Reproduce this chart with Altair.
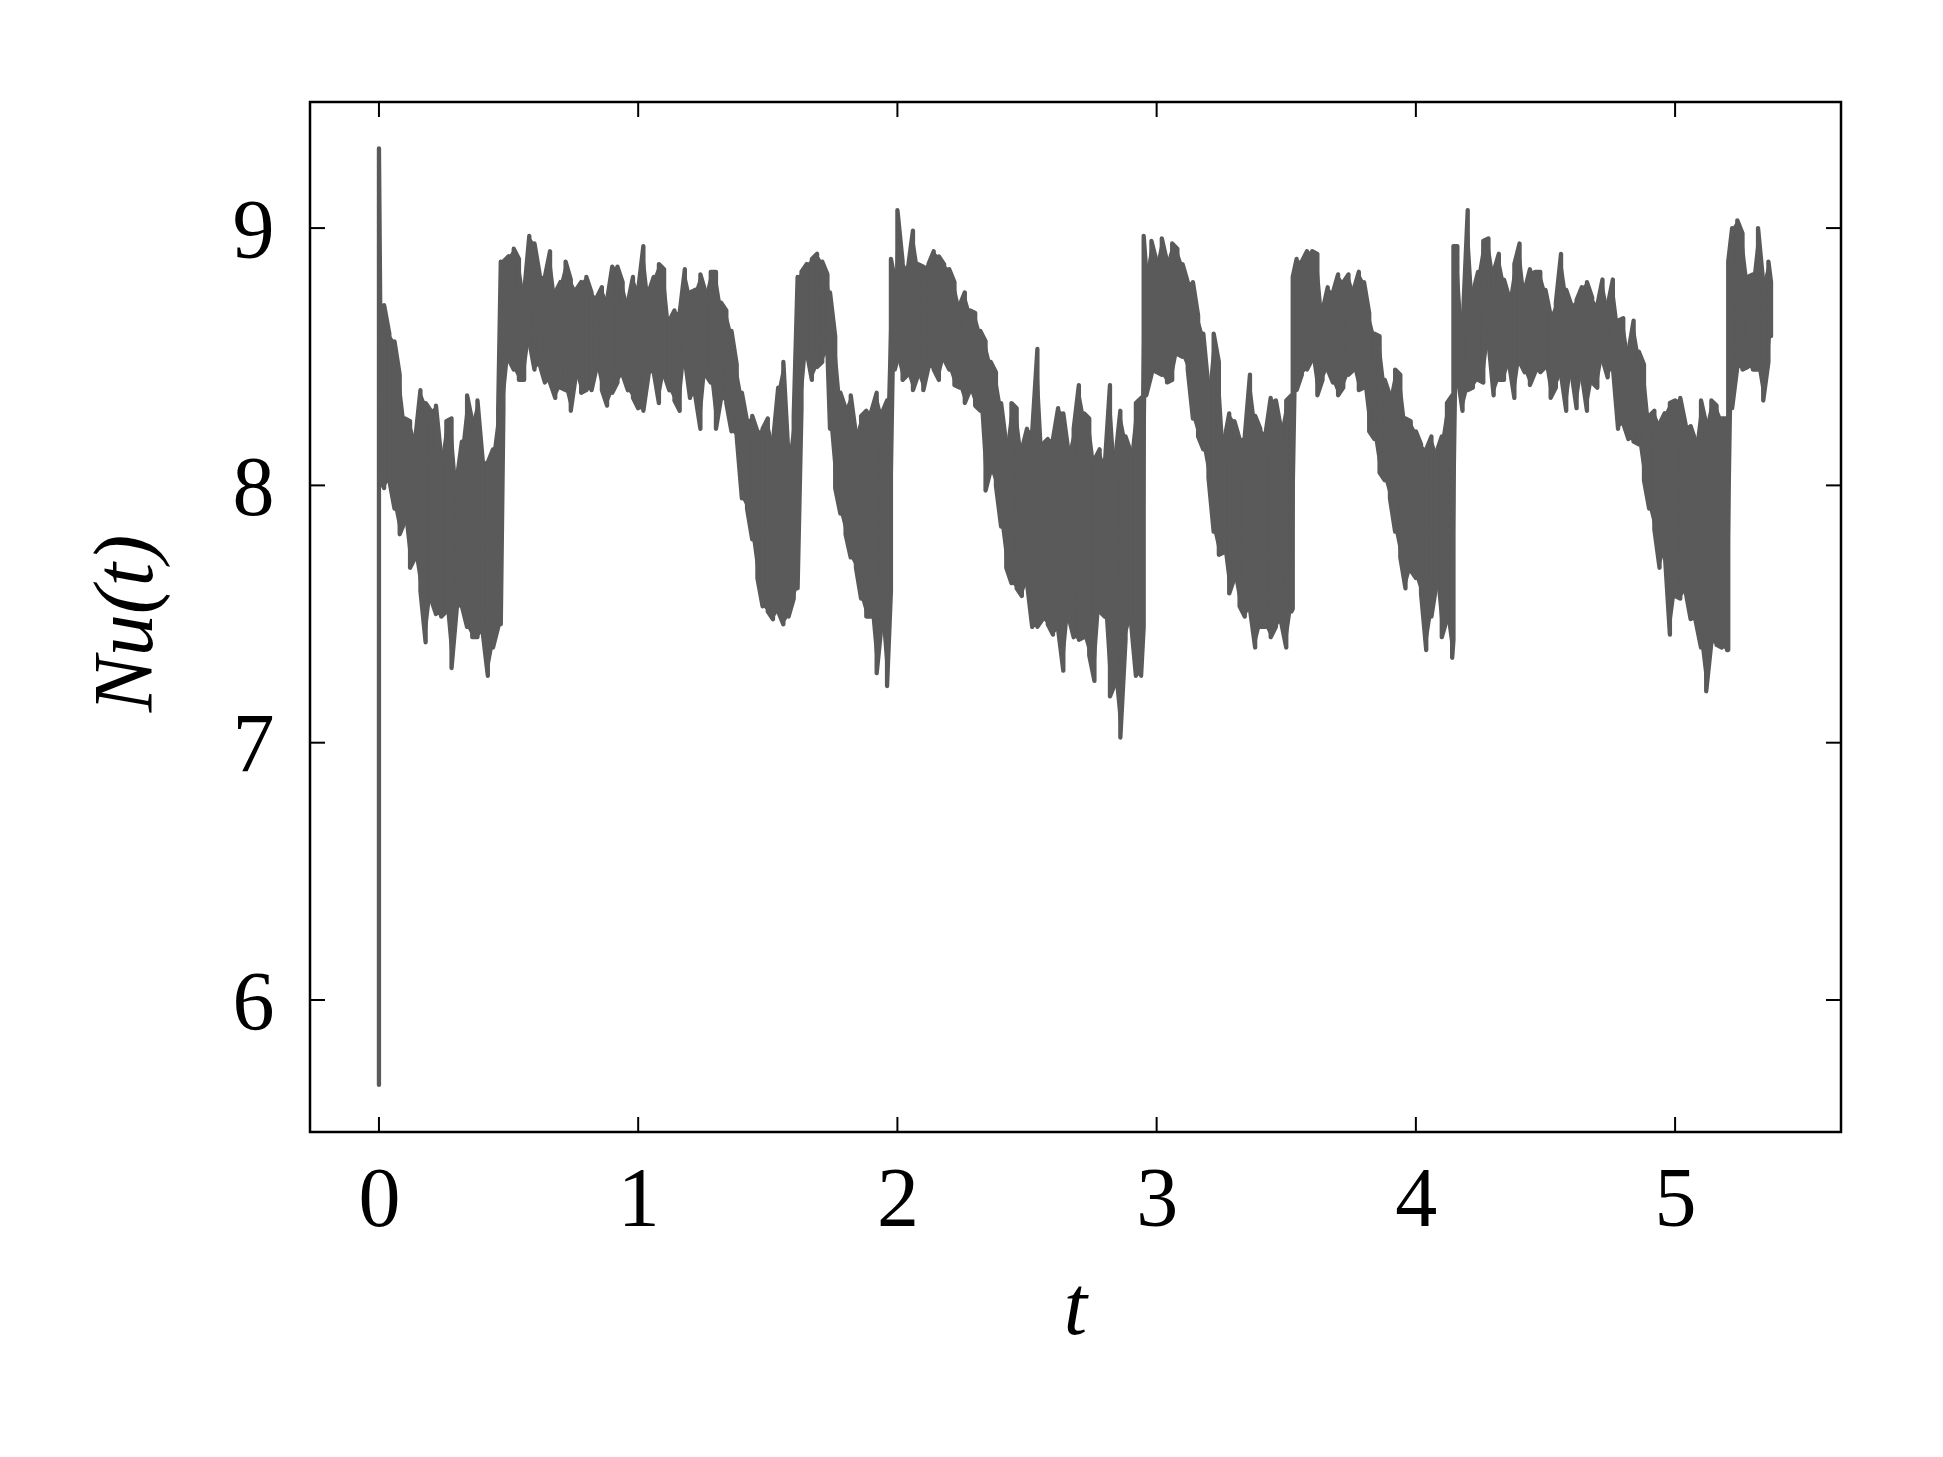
import altair as alt
import pandas as pd

# Sample times and the lower / upper envelope of Nu(t)
T = [0.00, 0.005, 0.02, 0.04, 0.06, 0.08, 0.10, 0.12, 0.14, 0.16, 0.18,
     0.20, 0.22, 0.24, 0.26, 0.28, 0.30, 0.32, 0.34, 0.36, 0.38,
     0.40, 0.42, 0.44, 0.46, 0.47, 0.48, 0.50, 0.52, 0.54, 0.56,
     0.58, 0.60, 0.62, 0.64, 0.66, 0.68, 0.70, 0.72, 0.74, 0.76,
     0.78, 0.80, 0.82, 0.84, 0.86, 0.88, 0.90, 0.92, 0.94, 0.96,
     0.98, 1.00, 1.02, 1.04, 1.06, 1.08, 1.10, 1.12, 1.14, 1.16,
     1.18, 1.20, 1.22, 1.24, 1.26, 1.28, 1.30, 1.32, 1.34, 1.36,
     1.38, 1.40, 1.42, 1.44, 1.46, 1.48, 1.50, 1.52, 1.54, 1.56,
     1.58, 1.60, 1.615, 1.63, 1.65, 1.67, 1.69, 1.71, 1.73, 1.74,
     1.76, 1.78, 1.80, 1.82, 1.84, 1.86, 1.88, 1.90, 1.92, 1.94,
     1.96, 1.975, 1.99, 2.00, 2.02, 2.04, 2.06, 2.08, 2.10, 2.12,
     2.14, 2.16, 2.18, 2.20, 2.22, 2.24, 2.26, 2.28, 2.30, 2.32,
     2.34, 2.36, 2.38, 2.40, 2.42, 2.44, 2.46, 2.48, 2.50, 2.52,
     2.54, 2.56, 2.58, 2.60, 2.62, 2.64, 2.66, 2.68, 2.70, 2.72,
     2.74, 2.76, 2.78, 2.80, 2.82, 2.84, 2.86, 2.88, 2.90, 2.92,
     2.94, 2.95, 2.96, 2.98, 3.00, 3.02, 3.04, 3.06, 3.08, 3.10,
     3.12, 3.14, 3.16, 3.18, 3.20, 3.22, 3.24, 3.26, 3.28, 3.30,
     3.32, 3.34, 3.36, 3.38, 3.40, 3.42, 3.44, 3.46, 3.48, 3.50,
     3.52, 3.525, 3.54, 3.56, 3.58, 3.60, 3.62, 3.64, 3.66, 3.68,
     3.70, 3.72, 3.74, 3.76, 3.78, 3.80, 3.82, 3.84, 3.86, 3.88,
     3.90, 3.92, 3.94, 3.96, 3.98, 4.00, 4.02, 4.04, 4.06, 4.08,
     4.10, 4.12, 4.14, 4.145, 4.16, 4.18, 4.20, 4.22, 4.24, 4.26,
     4.28, 4.30, 4.32, 4.34, 4.36, 4.38, 4.40, 4.42, 4.44, 4.46,
     4.48, 4.50, 4.52, 4.54, 4.56, 4.58, 4.60, 4.62, 4.64, 4.66,
     4.68, 4.70, 4.72, 4.74, 4.76, 4.78, 4.80, 4.82, 4.84, 4.86,
     4.88, 4.90, 4.92, 4.94, 4.96, 4.98, 5.00, 5.02, 5.04, 5.06,
     5.08, 5.10, 5.12, 5.14, 5.16, 5.18, 5.20, 5.205, 5.22, 5.24,
     5.26, 5.28, 5.30, 5.32, 5.34, 5.36, 5.37]

LO = [5.67, 8.02, 7.99, 8.02, 7.91, 7.81, 7.86, 7.68, 7.72, 7.59, 7.39,
      7.56, 7.50, 7.49, 7.51, 7.29, 7.52, 7.53, 7.45, 7.41, 7.41,
      7.43, 7.26, 7.37, 7.45, 7.46, 8.29, 8.49, 8.45, 8.41, 8.41,
      8.56, 8.45, 8.47, 8.40, 8.40, 8.34, 8.38, 8.37, 8.29, 8.43,
      8.36, 8.37, 8.37, 8.46, 8.37, 8.31, 8.36, 8.40, 8.43, 8.37,
      8.34, 8.30, 8.29, 8.43, 8.44, 8.32, 8.43, 8.37, 8.33, 8.29,
      8.49, 8.34, 8.35, 8.22, 8.43, 8.40, 8.22, 8.34, 8.32, 8.21,
      8.19, 7.95, 7.91, 7.79, 7.64, 7.53, 7.51, 7.48, 7.51, 7.46,
      7.49, 7.56, 7.60, 8.30, 8.52, 8.41, 8.46, 8.48, 8.52, 8.22,
      7.99, 7.89, 7.81, 7.72, 7.68, 7.56, 7.49, 7.49, 7.27, 7.47,
      7.22, 7.59, 8.45, 8.49, 8.41, 8.43, 8.37, 8.43, 8.37, 8.46,
      8.45, 8.41, 8.49, 8.45, 8.39, 8.38, 8.32, 8.37, 8.31, 8.29,
      7.98, 8.06, 8.00, 7.84, 7.68, 7.62, 7.60, 7.57, 7.62, 7.45,
      7.45, 7.48, 7.46, 7.42, 7.44, 7.28, 7.49, 7.41, 7.40, 7.41,
      7.34, 7.24, 7.51, 7.49, 7.18, 7.23, 7.02, 7.40, 7.48, 7.26,
      7.26, 7.45, 8.35, 8.43, 8.44, 8.43, 8.40, 8.41, 8.51, 8.50,
      8.45, 8.26, 8.19, 8.14, 8.03, 7.82, 7.73, 7.74, 7.58, 7.64,
      7.53, 7.49, 7.52, 7.37, 7.45, 7.45, 7.41, 7.45, 7.47, 7.37,
      7.51, 7.52, 8.37, 8.43, 8.45, 8.49, 8.35, 8.41, 8.45, 8.40,
      8.35, 8.38, 8.43, 8.45, 8.37, 8.38, 8.21, 8.18, 8.05, 8.02,
      7.95, 7.82, 7.72, 7.60, 7.67, 7.64, 7.58, 7.36, 7.49, 7.62,
      7.41, 7.48, 7.33, 7.40, 8.43, 8.29, 8.37, 8.38, 8.41, 8.40,
      8.56, 8.35, 8.41, 8.41, 8.47, 8.34, 8.48, 8.44, 8.39, 8.44,
      8.44, 8.46, 8.34, 8.38, 8.43, 8.29, 8.44, 8.30, 8.43, 8.29,
      8.40, 8.38, 8.49, 8.42, 8.46, 8.22, 8.24, 8.18, 8.17, 8.16,
      8.02, 7.91, 7.83, 7.68, 7.74, 7.42, 7.57, 7.56, 7.59, 7.48,
      7.47, 7.37, 7.20, 7.39, 7.38, 7.37, 7.36, 7.36, 8.30, 8.46,
      8.45, 8.46, 8.45, 8.45, 8.33, 8.48, 8.58]

HI = [9.31, 8.68, 8.70, 8.59, 8.56, 8.43, 8.26, 8.25, 8.18, 8.37, 8.32,
      8.29, 8.31, 8.11, 8.25, 8.26, 8.02, 8.17, 8.35, 8.25, 8.33,
      8.10, 8.09, 8.14, 8.30, 8.87, 8.87, 8.89, 8.92, 8.88, 8.75,
      8.97, 8.94, 8.82, 8.81, 8.91, 8.75, 8.79, 8.87, 8.80, 8.76,
      8.79, 8.81, 8.75, 8.73, 8.77, 8.72, 8.85, 8.85, 8.79, 8.71,
      8.81, 8.76, 8.93, 8.75, 8.81, 8.86, 8.84, 8.64, 8.68, 8.67,
      8.84, 8.75, 8.76, 8.82, 8.75, 8.83, 8.83, 8.71, 8.68, 8.60,
      8.47, 8.36, 8.25, 8.27, 8.21, 8.22, 8.26, 8.17, 8.38, 8.48,
      8.11, 8.27, 8.81, 8.83, 8.86, 8.88, 8.90, 8.87, 8.82, 8.75,
      8.58, 8.36, 8.30, 8.35, 8.20, 8.27, 8.29, 8.29, 8.36, 8.28,
      8.33, 8.88, 8.80, 9.07, 8.87, 8.84, 8.99, 8.86, 8.85, 8.86,
      8.91, 8.89, 8.86, 8.84, 8.79, 8.70, 8.75, 8.68, 8.67, 8.60,
      8.56, 8.48, 8.44, 8.32, 8.16, 8.32, 8.30, 8.14, 8.22, 8.21,
      8.53, 8.16, 8.18, 8.18, 8.30, 8.28, 8.13, 8.22, 8.39, 8.28,
      8.26, 8.10, 8.14, 8.08, 8.39, 8.10, 8.29, 8.19, 8.13, 8.32,
      8.34, 8.97, 8.83, 8.95, 8.87, 8.96, 8.87, 8.94, 8.92, 8.86,
      8.79, 8.79, 8.66, 8.59, 8.38, 8.59, 8.48, 8.17, 8.28, 8.25,
      8.18, 8.19, 8.43, 8.27, 8.22, 8.20, 8.34, 8.33, 8.22, 8.33,
      8.35, 8.81, 8.88, 8.87, 8.91, 8.91, 8.90, 8.68, 8.77, 8.75,
      8.82, 8.79, 8.82, 8.76, 8.83, 8.79, 8.67, 8.59, 8.58, 8.41,
      8.35, 8.45, 8.43, 8.26, 8.25, 8.21, 8.16, 8.14, 8.19, 8.13,
      8.19, 8.32, 8.35, 8.93, 8.93, 8.61, 9.07, 8.75, 8.83, 8.95,
      8.96, 8.83, 8.90, 8.80, 8.73, 8.86, 8.94, 8.76, 8.84, 8.83,
      8.83, 8.76, 8.66, 8.71, 8.90, 8.76, 8.70, 8.72, 8.77, 8.79,
      8.73, 8.70, 8.80, 8.70, 8.80, 8.64, 8.65, 8.52, 8.64, 8.52,
      8.47, 8.27, 8.29, 8.24, 8.28, 8.32, 8.33, 8.34, 8.24, 8.23,
      8.17, 8.33, 8.24, 8.33, 8.31, 8.26, 8.26, 8.87, 9.00, 9.03,
      8.98, 8.81, 8.82, 9.00, 8.79, 8.87, 8.79]

X_TICKS = [0, 1, 2, 3, 4, 5]
Y_TICKS = [6, 7, 8, 9]
X_DOMAIN = [-0.266, 5.640]
Y_DOMAIN = [5.487, 9.490]
X_TITLE = "t"
Y_TITLE = "Nu(t)"

COLOR = "#5a5a5a"

# The trace runs back and forth between the two envelopes at each sample
rows = []
for i, (t, lo, hi) in enumerate(zip(T, LO, HI)):
    a, b = (lo, hi) if i % 2 == 0 else (hi, lo)
    rows.append({"t": t, "nu": a, "k": 2 * i})
    rows.append({"t": t, "nu": b, "k": 2 * i + 1})
df = pd.DataFrame(rows)

# Filled band between the envelopes (after the initial start-up spike)
band = pd.DataFrame({"t": T[1:], "nu": LO[1:], "nu2": HI[1:]})

W, H = 1531, 1030
TICK = 15
FONT = "Liberation Serif"

xs = alt.Scale(domain=X_DOMAIN, nice=False, zero=False)
ys = alt.Scale(domain=Y_DOMAIN, nice=False, zero=False)

x_axis = alt.Axis(values=X_TICKS, format="d", title=X_TITLE, labelPadding=27,
                  titleX=765, titleY=201, titleBaseline="alphabetic")
y_axis = alt.Axis(values=Y_TICKS, format="d", title=Y_TITLE, labelPadding=36,
                  labelOffset=4, titleX=-159, titleY=521,
                  titleBaseline="alphabetic", titleAngle=270)

X = alt.X("t:Q", scale=xs, axis=x_axis, title=X_TITLE)
Y = alt.Y("nu:Q", scale=ys, axis=y_axis, title=Y_TITLE)

area = alt.Chart(band).mark_area(color=COLOR, opacity=1).encode(
    x=X, y=Y, y2="nu2:Q")

line = alt.Chart(df).mark_line(
    color=COLOR, strokeWidth=4.3, strokeCap="round", strokeJoin="round"
).encode(x=X, y=Y, order="k:Q")

xt = pd.DataFrame({"t": X_TICKS})
yt = pd.DataFrame({"nu": Y_TICKS})

rule = dict(color="black", strokeWidth=2)
bottom_ticks = alt.Chart(xt).mark_rule(**rule).encode(
    x=X, y=alt.value(H), y2=alt.value(H - TICK))
top_ticks = alt.Chart(xt).mark_rule(**rule).encode(
    x=X, y=alt.value(0), y2=alt.value(TICK))
left_ticks = alt.Chart(yt).mark_rule(**rule).encode(
    y=Y, x=alt.value(0), x2=alt.value(TICK))
right_ticks = alt.Chart(yt).mark_rule(**rule).encode(
    y=Y, x=alt.value(W), x2=alt.value(W - TICK))

chart = alt.layer(area, line, bottom_ticks, top_ticks, left_ticks, right_ticks).properties(
    width=W, height=H,
    padding={"left": 302, "top": 94, "right": 60, "bottom": 270},
    autosize=alt.AutoSizeParams(type="none"),
    background="white",
).configure_view(
    stroke="black", strokeWidth=2.5
).configure_axis(
    domain=False, grid=False, ticks=False, tickSize=0,
    labelFont=FONT, labelFontSize=84, labelColor="black",
    titleFont=FONT, titleFontSize=84, titleFontStyle="italic",
    titleFontWeight="normal", titleColor="black",
)

chart.save("out.html", embed_options={"renderer": "svg", "actions": False})
